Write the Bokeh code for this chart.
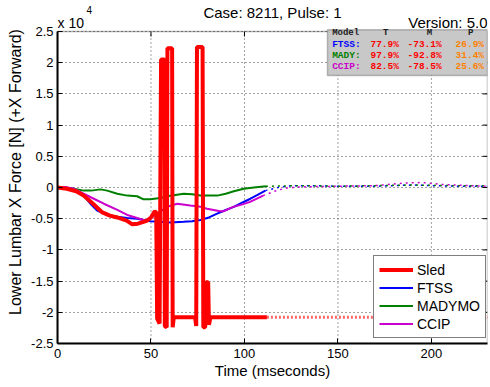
from bokeh.plotting import figure
from bokeh.models import (Range1d, FixedTicker, PrintfTickFormatter,
                          Legend, LegendItem, Label, BoxAnnotation)
from bokeh.embed import file_html
from bokeh.resources import INLINE

# ---------------- data (force in units of 1e4 N, time in ms) ----------------
sled_t = [0, 5, 10, 14, 19, 24, 28, 32, 37, 40, 43, 46, 48, 50, 52, 52.8, 53.3,
          54.6, 55.2, 55.4, 57.2, 57.4, 58.4, 58.8, 61.3, 61.6, 62.2, 73.6, 74.2,
          74.6, 77.6, 78.0, 79.0, 79.5, 80.6, 81.0, 81.8, 112]
sled_f = [0, -0.02, -0.06, -0.13, -0.26, -0.40, -0.45, -0.48, -0.53, -0.59, -0.58,
          -0.55, -0.53, -0.48, -0.38, -0.40, -2.10, -2.18, 1.10, 2.05, 2.05, -2.22,
          -2.24, 2.23, 2.23, -2.24, -2.08, -2.08, -2.22, 2.25, 2.25, -2.24, -2.24,
          -1.52, -1.52, -2.20, -2.08, -2.08]
sled_ext_t = [112, 230]
sled_ext_f = [-2.08, -2.08]

ftss_t = [0, 4, 8.7, 14, 17.6, 21.2, 26.6, 32, 37.3, 42.6, 49.7, 55, 60.4, 67.4,
          72, 76.5, 81, 85.4, 90, 94.3, 99, 103.2, 107, 111.2]
ftss_f = [0, 0.0, -0.02, -0.13, -0.26, -0.37, -0.44, -0.47, -0.49, -0.50, -0.54,
          -0.55, -0.56, -0.55, -0.54, -0.52, -0.48, -0.42, -0.36, -0.31, -0.24,
          -0.18, -0.12, -0.05]
ftss_ext_t = [111.2, 118, 125, 135, 150, 170, 190, 200, 215, 230]
ftss_ext_f = [-0.05, 0.0, 0.03, 0.03, 0.02, 0.02, 0.04, 0.03, 0.02, 0.02]

mady_t = [0, 5, 8.7, 14, 18, 23, 26.6, 32, 37.3, 42.6, 46, 49.7, 55, 58.6, 63,
          67.5, 72, 76.5, 81, 85.4, 90, 94.3, 99.6, 105, 111.5]
mady_f = [0, -0.01, -0.02, -0.05, -0.05, -0.03, -0.05, -0.10, -0.13, -0.14, -0.19,
          -0.19, -0.17, -0.14, -0.12, -0.10, -0.11, -0.13, -0.13, -0.13, -0.10,
          -0.06, -0.02, 0.0, 0.02]
mady_ext_t = [111.5, 130, 150, 170, 190, 210, 230]
mady_ext_f = [0.02, 0.03, 0.02, 0.03, 0.04, 0.03, 0.03]

ccip_t = [0, 4, 8.7, 14, 19.4, 24.8, 32, 37.3, 42.6, 46, 48, 50.5, 53.3, 58.6, 64,
          71, 76.5, 80, 87, 89, 94, 99, 103, 110]
ccip_f = [0.01, 0.01, -0.02, -0.10, -0.18, -0.26, -0.36, -0.44, -0.49, -0.52,
          -0.52, -0.48, -0.42, -0.31, -0.26, -0.29, -0.31, -0.34, -0.38, -0.38,
          -0.31, -0.27, -0.23, -0.13]
ccip_ext_t = [110, 116, 122, 130, 150, 170, 185, 195, 205, 220, 230]
ccip_ext_f = [-0.13, -0.06, -0.01, 0.01, 0.02, 0.03, 0.07, 0.08, 0.05, 0.03, 0.02]

x_ticks = [0, 50, 100, 150, 200]
y_ticks = [-2.5, -2, -1.5, -1, -0.5, 0, 0.5, 1, 1.5, 2, 2.5]

table_header = ["Model", "T", "M", "P"]
table_models = ["FTSS:", "MADY:", "CCIP:"]
table_T = ["77.9%", "97.9%", "82.5%"]
table_M = ["-73.1%", "-92.8%", "-78.5%"]
table_P = ["26.9%", "31.4%", "25.6%"]

# ---------------- layout / styles ----------------
RED, BLUE, GREEN, MAG, ORANGE = "#ff0000", "#0000ff", "#008000", "#cc00cc", "#ff8000"
FONT = "Liberation Sans"
MONO = "Liberation Mono"

X0, X1 = 0, 230
Y0, Y1 = y_ticks[0], y_ticks[-1]
PX_PER_Y = 62.4             # pixels per 1e4 N
PX_PER_X = 430 / (X1 - X0)  # pixels per ms
HEADER_PX = 31              # header strip kept inside the frame, above the axes box
Y_TOP = Y1 + HEADER_PX / PX_PER_Y
TICK_X = 5 / PX_PER_X
TICK_Y = 5 / PX_PER_Y

p = figure(width=490, height=387, x_range=Range1d(X0, X1), y_range=Range1d(Y0, Y_TOP),
           output_backend="svg", toolbar_location=None,
           min_border_left=57, min_border_right=3, min_border_top=0, min_border_bottom=44)
p.title.visible = False
p.background_fill_color = "white"
p.border_fill_color = "white"
p.outline_line_color = None

p.xaxis.ticker = FixedTicker(ticks=x_ticks)
p.yaxis.ticker = FixedTicker(ticks=y_ticks)
p.yaxis.bounds = (Y0, Y1)
p.ygrid.ticker = FixedTicker(ticks=y_ticks)
p.xgrid.visible = False
p.xaxis.formatter = PrintfTickFormatter(format="%g")
p.yaxis.formatter = PrintfTickFormatter(format="%g")
p.ygrid.grid_line_color = "#444444"
p.ygrid.grid_line_dash = "1 3"
p.ygrid.grid_line_width = 1

for ax in (p.xaxis[0], p.yaxis[0]):
    ax.major_tick_in = 5
    ax.major_tick_out = 0
    ax.minor_tick_in = 0
    ax.minor_tick_out = 0
    ax.axis_line_width = 2
    ax.axis_line_color = "black"
    ax.major_tick_line_color = "black"
    ax.major_label_text_font = FONT
    ax.major_label_text_font_size = "13px"
    ax.major_label_text_color = "black"
    ax.axis_label_text_font = FONT
    ax.axis_label_text_font_style = "normal"
    ax.axis_label_text_color = "black"

p.xaxis.axis_label = "Time (mseconds)"
p.xaxis.axis_label_text_font_size = "15px"
p.xaxis.major_label_standoff = 5
p.xaxis.axis_label_standoff = 1
p.yaxis.axis_label = "Lower Lumbar X Force [N] (+X Forward)"
p.yaxis.axis_label_text_font_size = "16px"
p.yaxis.major_label_standoff = 4
p.yaxis.axis_label_standoff = 4

# vertical dotted grid lines limited to the axes box
gx = x_ticks[1:]
p.segment(x0=gx, y0=[Y0] * len(gx), x1=gx, y1=[Y1] * len(gx),
          line_color="#444444", line_dash="1 3", line_width=1)

# continuation (dotted) traces
p.line(ftss_ext_t, ftss_ext_f, line_color=BLUE, line_width=1.5, line_dash="2 4")
p.line(mady_ext_t, mady_ext_f, line_color=GREEN, line_width=1.5, line_dash="2 4")
p.line(ccip_ext_t, ccip_ext_f, line_color=MAG, line_width=1.5, line_dash="2 4")
p.line(sled_ext_t, sled_ext_f, line_color=RED, line_width=3, line_dash="2 2", line_alpha=0.6)

r_ftss = p.line(ftss_t, ftss_f, line_color=BLUE, line_width=2)
r_mady = p.line(mady_t, mady_f, line_color=GREEN, line_width=2)
r_ccip = p.line(ccip_t, ccip_f, line_color=MAG, line_width=2)
r_sled = p.line(sled_t, sled_f, line_color=RED, line_width=4)

# axes box (top/right edges) and inward ticks on top and right
p.add_layout(BoxAnnotation(left=X0, right=X1, bottom=Y0, top=Y1, fill_alpha=0,
                           line_color="black", line_width=1.5, level="overlay"))
tx = x_ticks[1:]
p.segment(x0=tx, y0=[Y1] * len(tx), x1=tx, y1=[Y1 - TICK_Y] * len(tx),
          line_color="black", line_width=1)
ty = y_ticks[1:-1]
p.segment(x0=[X1] * len(ty), y0=ty, x1=[X1 - TICK_X] * len(ty), y1=ty,
          line_color="black", line_width=1)

legend = Legend(items=[LegendItem(label="Sled", renderers=[r_sled]),
                       LegendItem(label="FTSS", renderers=[r_ftss]),
                       LegendItem(label="MADYMO", renderers=[r_mady]),
                       LegendItem(label="CCIP", renderers=[r_ccip])],
                location=(316, 5), margin=0, padding=5, spacing=1,
                glyph_width=34, glyph_height=17, label_height=17, label_standoff=4,
                border_line_color="black", border_line_width=1,
                background_fill_color="white", background_fill_alpha=1,
                label_text_font=FONT, label_text_font_size="14px", label_text_color="black")
p.add_layout(legend)

# info table box
p.add_layout(BoxAnnotation(left=144.4, right=X1, top=2.53, bottom=1.795,
                           fill_color="#c8c8c8", fill_alpha=1,
                           line_color="#333333", line_width=1.5, level="overlay"))

row_y = [2.292, 2.115, 1.939]
model_colors = [BLUE, GREEN, MAG]
hdr_x = [146.9, 175.5, 199.0, 221.0]
hdr_align = ["left", "center", "center", "center"]
for txt, hx, al in zip(table_header, hdr_x, hdr_align):
    p.add_layout(Label(x=hx, y=2.468, text=txt, text_align=al, text_baseline="middle",
                       text_font=MONO, text_font_style="bold", text_font_size="9px",
                       text_color="#202020", level="overlay"))
for i in range(3):
    for txt, cx, col in ((table_models[i], 146.9, model_colors[i]),
                         (table_T[i], 167.4, RED),
                         (table_M[i], 187.2, RED),
                         (table_P[i], 212.9, ORANGE)):
        p.add_layout(Label(x=cx, y=row_y[i], text=txt, text_align="left",
                           text_baseline="middle", text_font=MONO,
                           text_font_style="bold", text_font_size="9.5px",
                           text_color=col, level="overlay"))

# header texts (inside the frame's header strip)
p.add_layout(Label(x=(X0 + X1) / 2, y=Y1, y_offset=19, text="Case: 8211, Pulse: 1",
                   text_align="center", text_baseline="middle", text_font=FONT,
                   text_font_size="15px", text_color="black"))
p.add_layout(Label(x=X1, y=Y1, y_offset=9.5, text="Version: 5.0", text_align="right",
                   text_baseline="middle", text_font=FONT, text_font_size="15px",
                   text_color="black"))
p.add_layout(Label(x=X0, y=Y1, y_offset=9, text="x 10", text_align="left",
                   text_baseline="middle", text_font=FONT, text_font_size="14px",
                   text_color="black"))
p.add_layout(Label(x=X0, y=Y1, x_offset=29, y_offset=22, text="4", text_align="left",
                   text_baseline="middle", text_font=FONT, text_font_size="10px",
                   text_color="black"))

open("out.html", "w").write(file_html(p, INLINE))
